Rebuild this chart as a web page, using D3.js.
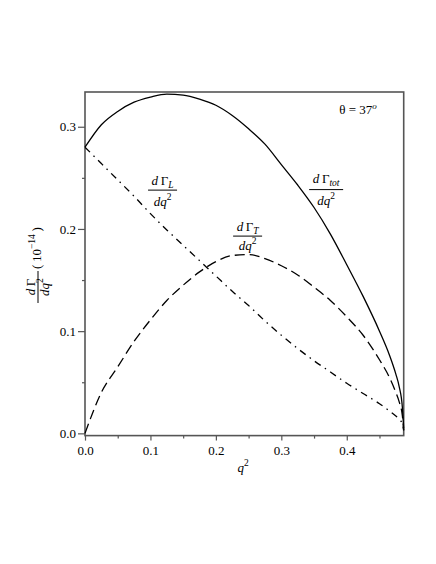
<!DOCTYPE html>
<html>
<head>
<meta charset="utf-8">
<script src="https://cdn.jsdelivr.net/npm/d3@7"></script>
<style>
  html, body { margin: 0; padding: 0; background: #fff; }
  svg { display: block; }
</style>
</head>
<body>
<svg id="chart" width="436" height="564"></svg>
<script>
// ---- data ----
const q2 = [0, 0.025, 0.05, 0.075, 0.1, 0.125, 0.15, 0.175, 0.2, 0.225, 0.25, 0.275, 0.3, 0.325, 0.35, 0.375, 0.4, 0.425, 0.45, 0.465, 0.475, 0.48, 0.485, 0.487];
const gammaTot = [0.280, 0.302, 0.315, 0.324, 0.329, 0.332, 0.331, 0.327, 0.321, 0.311, 0.298, 0.283, 0.263, 0.243, 0.221, 0.195, 0.165, 0.134, 0.100, 0.077, 0.058, 0.046, 0.025, 0.005];
const gammaL   = [0.280, 0.264, 0.248, 0.232, 0.215, 0.199, 0.184, 0.169, 0.154, 0.139, 0.125, 0.110, 0.096, 0.083, 0.071, 0.060, 0.049, 0.039, 0.029, 0.022, 0.017, 0.014, 0.009, 0.003];
const gammaT   = [0.000, 0.040, 0.065, 0.090, 0.111, 0.130, 0.145, 0.158, 0.168, 0.174, 0.175, 0.171, 0.164, 0.155, 0.143, 0.130, 0.114, 0.096, 0.072, 0.055, 0.040, 0.031, 0.017, 0.003];
const xTicks = [0, 0.1, 0.2, 0.3, 0.4];
const xMinor = [0.05, 0.15, 0.25, 0.35, 0.45];
const yTicks = [0, 0.1, 0.2, 0.3];
const yMinor = [0.05, 0.15, 0.25];
const xDomain = [0, 0.487];
const yDomain = [-0.0022, 0.334];

// ---- pick an installed Times-like serif ----
function pickSerif() {
  const c = document.createElement("canvas").getContext("2d");
  const probe = "0.123 dq \u0393 \u03B8 = 37 abcdefghij";
  const widthOf = f => { c.font = "40px " + f; return c.measureText(probe).width; };
  const base = widthOf("monospace");
  const cands = ["Liberation Serif", "Times New Roman", "Tinos", "Nimbus Roman", "Nimbus Roman No9 L", "FreeSerif", "Noto Serif", "DejaVu Serif Condensed", "DejaVu Serif"];
  for (const f of cands) {
    if (Math.abs(widthOf(`'${f}', monospace`) - base) > 0.5) return `'${f}', serif`;
  }
  return "serif";
}
const serif = pickSerif();

// ---- layout ----
const svg = d3.select("#chart").style("font-family", serif);
const L = 85, R = 403.7, T = 92, B = 435.6;
const x = d3.scaleLinear().domain(xDomain).range([L, R]);
const y = d3.scaleLinear().domain(yDomain).range([B, T]);
const fmt = d3.format(".1f");
const axisColor = "#555";

function styleAxis(g) {
  g.attr("font-family", null).attr("font-size", null);
  g.select(".domain").remove();
  g.selectAll("line").attr("stroke", axisColor).attr("stroke-width", 1.2);
  g.selectAll("text").attr("fill", "#000").style("font-size", "13px").style("font-family", serif);
}

// minor ticks
svg.append("g").attr("transform", `translate(0,${B})`)
  .call(d3.axisBottom(x).tickValues(xMinor).tickSize(3).tickSizeOuter(0).tickFormat(""))
  .call(styleAxis);
svg.append("g").attr("transform", `translate(${L},0)`)
  .call(d3.axisLeft(y).tickValues(yMinor).tickSize(3).tickSizeOuter(0).tickFormat(""))
  .call(styleAxis);

// major ticks
svg.append("g").attr("transform", `translate(0,${B})`)
  .call(d3.axisBottom(x).tickValues(xTicks).tickSize(5).tickPadding(5).tickSizeOuter(0).tickFormat(fmt))
  .call(styleAxis);
svg.append("g").attr("transform", `translate(${L},0)`)
  .call(d3.axisLeft(y).tickValues(yTicks).tickSize(7).tickPadding(2).tickSizeOuter(0).tickFormat(fmt))
  .call(styleAxis);

// frame
svg.append("rect").attr("x", L).attr("y", T).attr("width", R - L).attr("height", B - T)
  .attr("fill", "none").attr("stroke", axisColor).attr("stroke-width", 1.6);

// curves
const line = vals => d3.line().x((d, i) => x(q2[i])).y(d => y(d)).curve(d3.curveMonotoneX)(vals);
svg.append("path").attr("d", line(gammaTot)).attr("fill", "none").attr("stroke", "#000").attr("stroke-width", 1.3);
svg.append("path").attr("d", line(gammaT)).attr("fill", "none").attr("stroke", "#000").attr("stroke-width", 1.3)
  .attr("stroke-dasharray", "10,5");
svg.append("path").attr("d", line(gammaL)).attr("fill", "none").attr("stroke", "#000").attr("stroke-width", 1.3)
  .attr("stroke-dasharray", "7,5,1.5,5");

// fraction label helper
function fracLabel(g, sub, width, numDy, denDy) {
  const num = g.append("text").attr("text-anchor", "middle").attr("y", numDy).style("font-size", "13px");
  num.append("tspan").attr("font-style", "italic").text("d");
  num.append("tspan").text("\u2009\u0393");
  if (sub) num.append("tspan").attr("font-style", "italic").style("font-size", "9.5px").attr("dy", 3).text(sub);
  g.append("line").attr("x1", -width / 2).attr("x2", width / 2).attr("y1", 0).attr("y2", 0)
    .attr("stroke", "#000").attr("stroke-width", 1);
  const den = g.append("text").attr("text-anchor", "middle").attr("y", denDy).style("font-size", "13px");
  den.append("tspan").attr("font-style", "italic").text("dq");
  den.append("tspan").style("font-size", "9.5px").attr("dy", -6).text("2");
}

fracLabel(svg.append("g").attr("transform", `translate(${x(0.1185)},${y(0.238)})`), "L", 29, -5, 15.5);
fracLabel(svg.append("g").attr("transform", `translate(${x(0.2485)},${y(0.193)})`), "T", 29, -5.5, 14);
fracLabel(svg.append("g").attr("transform", `translate(${x(0.3685)},${y(0.2385)})`), "tot", 34, -6.5, 15);

// theta annotation
const th = svg.append("text").attr("x", 358).attr("y", 114).attr("text-anchor", "middle").style("font-size", "13px");
th.append("tspan").text("\u03B8 = 37");
th.append("tspan").attr("font-style", "italic").style("font-size", "9px").attr("dy", -5).text("o");

// x axis title
const xt = svg.append("text").attr("x", 243).attr("y", 472).attr("text-anchor", "middle").style("font-size", "13px");
xt.append("tspan").attr("font-style", "italic").text("q");
xt.append("tspan").style("font-size", "9.5px").attr("dy", -6).text("2");

// y axis title (rotated)
const yg = svg.append("g").attr("transform", "translate(38,287) rotate(-90)");
fracLabel(yg, null, 32, -3, 11);
const yp = yg.append("text").attr("x", 18).attr("y", 3).style("font-size", "13px");
yp.append("tspan").text("(\u200910");
yp.append("tspan").style("font-size", "9.5px").attr("dy", -6).text("\u221214");
yp.append("tspan").attr("dy", 6).text("\u2009)");
</script>
</body>
</html>
